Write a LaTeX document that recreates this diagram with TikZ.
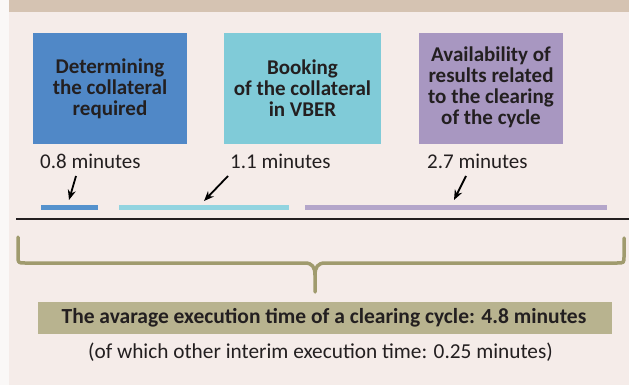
\documentclass[tikz,border=0pt]{standalone}
\usepackage{fontspec}
\setmainfont{Carlito}
\usetikzlibrary{arrows.meta}
\definecolor{pagewhite}{HTML}{FAF8F7}
\definecolor{bgpink}{HTML}{F5ECE9}
\definecolor{tanband}{HTML}{D5C3B2}
\definecolor{boxblue}{HTML}{5088C7}
\definecolor{boxcyan}{HTML}{80CBD8}
\definecolor{boxlilac}{HTML}{A897C1}
\definecolor{barblue}{HTML}{5592CD}
\definecolor{barcyan}{HTML}{92D4E0}
\definecolor{barlilac}{HTML}{B4A6CA}
\definecolor{braceolive}{HTML}{A09B6E}
\definecolor{boxolive}{HTML}{B8B38F}
\definecolor{txt}{HTML}{231F20}
\tikzset{
  stepbox/.style={inner sep=0pt, align=center, font=\fontsize{21}{21}\selectfont\bfseries, text=txt},
  minlabel/.style={inner sep=0pt, anchor=west, font=\fontsize{21}{24}\selectfont, text=txt},
  pointer/.style={draw=black, line width=1.8pt, -{Stealth[length=10pt,width=8pt]}},
  bar/.style={line width=5pt},
  bracepath/.style={draw=braceolive, line width=3.5pt, line cap=round, line join=round},
}
\begin{document}
\begin{tikzpicture}[x=1pt,y=-1pt]
\useasboundingbox (0,0) rectangle (629,385);
\fill[pagewhite] (0,0) rectangle (629,385);
\fill[bgpink] (9,0) rectangle (629,385);
\fill[tanband] (9,0) rectangle (629,12);
% boxes
\fill[boxblue] (33,33) rectangle (187,144);
\fill[boxcyan] (224,33) rectangle (381,144);
\fill[boxlilac] (419,33) rectangle (563,144);
\node[stepbox] (b1) at (110,89) {Determining\\the collateral\\required};
\node[stepbox] (b2) at (302.5,88.5) {Booking\\of the collateral\\in VBER};
\node[stepbox] (b3) at (491,87.5) {Availability of\\results related\\to the clearing\\of the cycle};
% labels
\node[minlabel] (l1) at (40,161) {0.8 minutes};
\node[minlabel] (l2) at (230,161) {1.1 minutes};
\node[minlabel] (l3) at (427,161) {2.7 minutes};
% bars
\coordinate (bar1s) at (41,207.5); \coordinate (bar1e) at (98,207.5);
\coordinate (bar2s) at (119,207.5); \coordinate (bar2e) at (289,207.5);
\coordinate (bar3s) at (305,207.5); \coordinate (bar3e) at (607,207.5);
\draw[bar, draw=barblue] (bar1s) -- (bar1e);
\draw[bar, draw=barcyan] (bar2s) -- (bar2e);
\draw[bar, draw=barlilac] (bar3s) -- (bar3e);
% arrows
\coordinate (a1s) at (76,176); \coordinate (a1e) at (69,200);
\coordinate (a2s) at (228,176); \coordinate (a2e) at (204,201);
\coordinate (a3s) at (466,176); \coordinate (a3e) at (454,200);
\draw[pointer] (a1s) -- (a1e);
\draw[pointer] (a2s) -- (a2e);
\draw[pointer] (a3s) -- (a3e);
% axis line
\coordinate (axs) at (16,219); \coordinate (axe) at (629,219);
\draw[line width=2.5pt, draw=txt] (axs) -- (axe);
% brace
\coordinate (brl) at (18,237); \coordinate (brr) at (624,238); \coordinate (brt) at (315,292);
\draw[bracepath] (brl) -- (18,256) .. controls (18,263) .. (25,263) -- (305,263)
   .. controls (312,263) and (315,267) .. (315,275) -- (brt);
\draw[bracepath] (brr) -- (624,256) .. controls (624,263) .. (617,263) -- (325,263)
   .. controls (318,263) and (315,267) .. (315,275);
% result
\fill[boxolive] (38,302) rectangle (612,334);
\node[inner sep=0pt, text=txt, font=\fontsize{21.5}{24}\selectfont\bfseries] (res) at (324,318) {The avarage execution time of a clearing cycle: 4.8 minutes};
\node[inner sep=0pt, text=txt, font=\fontsize{21.3}{24}\selectfont] (sub) at (320.5,352) {(of which other interim execution time: 0.25 minutes)};
\end{tikzpicture}
\end{document}
